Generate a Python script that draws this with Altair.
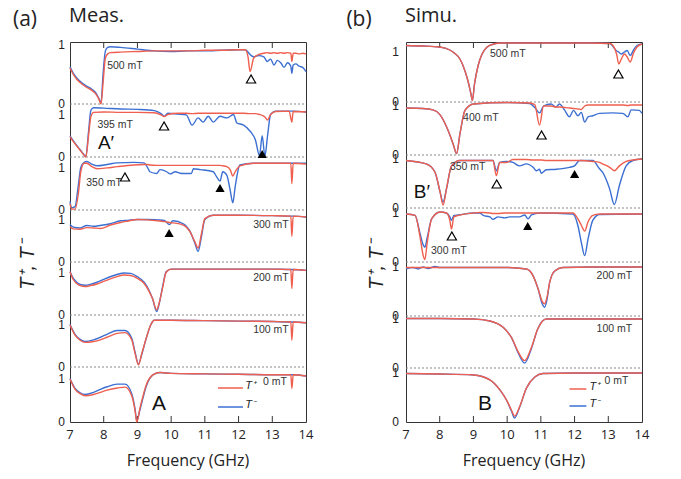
import altair as alt
import pandas as pd

# ---------------- panel (a): measured ----------------
A1_F = [7.0, 7.1, 7.2, 7.35, 7.5, 7.65, 7.75, 7.85, 7.92, 7.98, 8.05, 8.12, 8.2, 8.5, 9.0, 9.5, 10.0, 10.5, 11.0, 11.5, 12.0, 12.2, 12.28, 12.34, 12.45, 12.6, 12.75, 12.85, 12.95, 13.05, 13.15, 13.25, 13.35, 13.45, 13.55, 13.58, 13.62, 13.7, 13.8, 13.9, 14.0]
A1_R = [0.61, 0.5, 0.42, 0.34, 0.28, 0.23, 0.18, 0.09, 0.0, 0.35, 0.78, 0.85, 0.87, 0.88, 0.89, 0.9, 0.9, 0.9, 0.91, 0.91, 0.92, 0.92, 0.8, 0.55, 0.78, 0.84, 0.86, 0.87, 0.86, 0.87, 0.86, 0.87, 0.86, 0.87, 0.86, 0.72, 0.86, 0.86, 0.85, 0.86, 0.85]
A1_B = [0.63, 0.52, 0.44, 0.36, 0.3, 0.25, 0.2, 0.1, 0.02, 0.5, 0.9, 0.96, 0.97, 0.96, 0.93, 0.9, 0.89, 0.9, 0.9, 0.91, 0.92, 0.92, 0.88, 0.84, 0.8, 0.82, 0.8, 0.72, 0.76, 0.66, 0.74, 0.7, 0.62, 0.7, 0.64, 0.52, 0.66, 0.68, 0.64, 0.62, 0.55]

A2_F = [7.0, 7.1, 7.2, 7.3, 7.4, 7.47, 7.55, 7.62, 7.7, 8.0, 8.5, 9.0, 9.5, 9.7, 9.8, 9.9, 10.2, 10.45, 10.62, 10.8, 10.95, 11.1, 11.25, 11.45, 11.65, 11.85, 11.95, 12.15, 12.35, 12.5, 12.62, 12.7, 12.78, 12.86, 12.95, 13.1, 13.5, 13.58, 13.62, 14.0]
A2_R = [0.48, 0.36, 0.26, 0.16, 0.06, 0.0, 0.5, 0.95, 1.05, 1.06, 1.05, 1.05, 1.04, 0.99, 0.95, 1.0, 1.03, 1.03, 1.02, 1.03, 1.03, 1.03, 1.03, 1.03, 1.03, 1.03, 1.03, 1.03, 1.02, 1.02, 1.0, 0.98, 0.94, 0.87, 1.0, 1.07, 1.08, 0.82, 1.07, 1.06]
A2_B = [0.5, 0.38, 0.27, 0.17, 0.07, 0.01, 0.6, 1.1, 1.16, 1.15, 1.13, 1.12, 1.09, 1.02, 0.96, 1.03, 1.01, 0.99, 0.75, 0.92, 0.82, 0.96, 0.82, 0.96, 0.92, 1.0, 0.8, 0.75, 0.6, 0.4, 0.03, 0.5, 0.02, 0.5, 1.0, 1.08, 1.08, 1.08, 1.08, 1.06]

A3_F = [7.0, 7.05, 7.15, 7.25, 7.32, 7.42, 7.5, 7.65, 7.8, 8.1, 8.4, 8.9, 9.2, 9.3, 9.37, 9.57, 9.67, 9.87, 9.97, 10.12, 10.31, 10.6, 10.66, 10.86, 11.25, 11.35, 11.45, 11.53, 11.65, 11.75, 11.83, 11.9, 12.04, 12.44, 13.0, 13.55, 13.58, 13.62, 14.0]
A3_R = [0.15, 0.02, 0.02, 0.4, 0.9, 1.1, 1.1, 1.02, 0.97, 0.99, 1.02, 1.06, 1.07, 1.07, 1.06, 1.05, 1.05, 1.05, 1.05, 1.05, 1.05, 1.05, 1.05, 1.05, 1.05, 1.05, 1.05, 1.04, 1.02, 0.95, 0.8, 0.9, 1.04, 1.1, 1.1, 1.1, 0.62, 1.1, 1.08]
A3_B = [0.2, 0.05, 0.08, 0.6, 1.0, 1.12, 1.14, 1.08, 1.04, 1.07, 1.11, 1.12, 1.11, 1.0, 0.9, 0.86, 0.95, 0.9, 0.85, 0.9, 0.86, 0.86, 0.97, 0.95, 0.9, 0.78, 0.68, 0.9, 0.82, 0.47, 0.17, 0.55, 1.06, 1.1, 1.1, 1.1, 1.1, 1.1, 1.1]

A4_F = [7.0, 7.1, 7.3, 7.5, 7.7, 7.9, 8.2, 8.5, 8.7, 9.0, 9.3, 9.6, 9.8, 9.95, 10.05, 10.36, 10.56, 10.7, 10.8, 10.9, 11.0, 11.25, 12.0, 13.0, 13.55, 13.58, 13.62, 14.0]
A4_R = [0.83, 0.78, 0.77, 0.81, 0.8, 0.79, 0.87, 0.93, 0.96, 1.0, 0.99, 0.97, 0.95, 0.93, 0.92, 0.87, 0.71, 0.48, 0.33, 0.67, 1.02, 1.1, 1.1, 1.09, 1.08, 0.6, 1.08, 1.06]
A4_B = [0.88, 0.82, 0.8, 0.86, 0.84, 0.86, 0.9, 0.97, 0.98, 1.0, 1.0, 0.99, 0.98, 0.88, 0.97, 0.9, 0.72, 0.45, 0.25, 0.6, 1.0, 1.1, 1.1, 1.09, 1.08, 1.08, 1.08, 1.06]

A5_F = [7.0, 7.1, 7.2, 7.3, 7.45, 7.6, 7.8, 8.0, 8.3, 8.6, 8.8, 9.0, 9.2, 9.35, 9.45, 9.57, 9.65, 9.75, 9.85, 10.0, 11.0, 12.0, 13.0, 13.55, 13.58, 13.62, 14.0]
A5_R = [1.02, 0.83, 0.74, 0.69, 0.67, 0.69, 0.73, 0.79, 0.88, 0.94, 0.93, 0.86, 0.74, 0.55, 0.38, 0.12, 0.3, 0.65, 1.0, 1.08, 1.08, 1.08, 1.08, 1.07, 0.62, 1.07, 1.05]
A5_B = [1.02, 0.86, 0.77, 0.72, 0.7, 0.72, 0.77, 0.84, 0.93, 0.99, 0.98, 0.9, 0.77, 0.57, 0.38, 0.08, 0.28, 0.68, 1.02, 1.08, 1.08, 1.08, 1.08, 1.07, 1.07, 1.07, 1.05]

A6_F = [7.0, 7.15, 7.3, 7.45, 7.7, 7.9, 8.1, 8.4, 8.63, 8.83, 8.93, 9.03, 9.13, 9.27, 9.4, 9.5, 10.0, 11.0, 12.0, 13.0, 13.55, 13.58, 13.62, 14.0]
A6_R = [0.99, 0.75, 0.63, 0.58, 0.6, 0.64, 0.7, 0.79, 0.81, 0.64, 0.32, 0.05, 0.32, 0.7, 1.0, 1.1, 1.1, 1.09, 1.08, 1.07, 1.06, 0.63, 1.06, 1.04]
A6_B = [1.0, 0.77, 0.65, 0.6, 0.64, 0.7, 0.77, 0.86, 0.86, 0.68, 0.35, 0.07, 0.3, 0.7, 1.0, 1.1, 1.1, 1.09, 1.08, 1.07, 1.06, 1.06, 1.06, 1.04]

A7_F = [7.0, 7.15, 7.3, 7.45, 7.7, 7.9, 8.1, 8.4, 8.63, 8.83, 8.93, 8.98, 9.08, 9.27, 9.47, 9.67, 10.0, 11.0, 12.0, 13.0, 13.55, 13.58, 13.62, 14.0]
A7_R = [1.0, 0.76, 0.66, 0.61, 0.64, 0.69, 0.74, 0.79, 0.81, 0.61, 0.26, 0.0, 0.34, 0.88, 1.1, 1.15, 1.13, 1.12, 1.11, 1.1, 1.1, 0.78, 1.1, 1.07]
A7_B = [1.01, 0.78, 0.68, 0.64, 0.69, 0.76, 0.82, 0.88, 0.88, 0.66, 0.3, 0.03, 0.3, 0.85, 1.1, 1.15, 1.13, 1.12, 1.11, 1.1, 1.1, 1.1, 1.1, 1.07]

# ---------------- panel (b): simulated ----------------
B1_F = [7.0, 7.5, 8.0, 8.3, 8.45, 8.6, 8.75, 8.85, 8.93, 8.97, 9.03, 9.14, 9.25, 9.39, 9.6, 9.8, 11.0, 12.5, 13.05, 13.15, 13.25, 13.31, 13.38, 13.48, 13.56, 13.65, 13.75, 13.85, 14.0]
B1_R = [1.13, 1.12, 1.1, 1.04, 0.97, 0.86, 0.62, 0.39, 0.15, 0.03, 0.35, 0.73, 0.95, 1.09, 1.16, 1.18, 1.18, 1.18, 1.17, 1.12, 0.95, 0.76, 0.85, 0.96, 0.9, 0.8, 0.98, 1.1, 1.16]
B1_B = [1.13, 1.12, 1.1, 1.04, 0.97, 0.86, 0.62, 0.39, 0.15, 0.03, 0.35, 0.73, 0.95, 1.09, 1.16, 1.18, 1.18, 1.18, 1.17, 1.1, 1.02, 1.0, 0.96, 1.0, 1.03, 0.93, 1.04, 1.13, 1.16]

B2_F = [7.0, 7.5, 7.8, 8.0, 8.25, 8.4, 8.5, 8.6, 8.75, 9.0, 10.0, 10.67, 10.82, 10.96, 11.08, 11.3, 11.45, 11.55, 11.7, 11.85, 11.97, 12.1, 12.2, 12.3, 12.4, 12.54, 12.74, 13.13, 13.43, 13.58, 13.68, 13.92, 14.0]
B2_R = [0.96, 0.95, 0.92, 0.83, 0.5, 0.22, 0.03, 0.43, 0.91, 1.04, 1.07, 1.06, 1.03, 0.61, 1.0, 1.0, 0.98, 0.98, 0.97, 0.96, 0.95, 0.94, 0.93, 1.0, 1.02, 1.02, 1.02, 1.02, 1.02, 1.01, 1.02, 1.02, 1.02]
B2_B = [0.96, 0.95, 0.92, 0.83, 0.5, 0.22, 0.03, 0.43, 0.91, 1.04, 1.07, 1.05, 0.97, 0.86, 1.0, 1.04, 0.98, 1.04, 0.92, 0.78, 0.91, 0.8, 0.87, 0.67, 0.78, 0.8, 0.85, 0.86, 0.85, 0.78, 0.92, 0.91, 0.85]

B3_F = [7.0, 7.6, 7.86, 8.01, 8.1, 8.2, 8.35, 8.6, 9.58, 9.68, 9.78, 9.98, 10.17, 10.37, 10.57, 10.77, 10.87, 10.96, 11.01, 11.16, 11.46, 11.85, 12.0, 12.15, 12.54, 12.74, 12.83, 13.04, 13.18, 13.33, 13.53, 13.73, 14.0]
B3_R = [0.97, 0.9, 0.73, 0.33, 0.06, 0.39, 0.86, 0.97, 0.97, 0.66, 0.93, 0.93, 0.99, 0.99, 0.99, 0.98, 0.98, 0.98, 0.98, 0.97, 0.97, 0.97, 0.97, 0.97, 0.95, 0.93, 0.9, 0.83, 0.76, 0.86, 0.95, 0.98, 1.0]
B3_B = [0.97, 0.9, 0.73, 0.33, 0.12, 0.39, 0.86, 0.97, 0.97, 0.76, 0.93, 0.95, 0.93, 0.86, 0.9, 0.83, 0.76, 0.79, 0.71, 0.78, 0.79, 0.83, 0.86, 0.97, 0.97, 0.8, 0.73, 0.39, 0.07, 0.46, 0.86, 0.97, 1.0]

B4_F = [7.0, 7.27, 7.41, 7.51, 7.56, 7.63, 7.76, 8.01, 8.2, 8.3, 8.35, 8.42, 8.55, 9.0, 9.19, 9.29, 9.49, 9.58, 9.73, 9.93, 10.08, 10.37, 10.52, 10.62, 10.72, 10.96, 11.95, 12.1, 12.2, 12.3, 12.4, 12.54, 12.74, 14.0]
B4_R = [0.98, 0.95, 0.54, 0.13, 0.05, 0.4, 0.88, 1.02, 1.0, 0.85, 0.67, 0.92, 0.95, 1.0, 1.01, 1.01, 1.0, 0.99, 0.99, 1.0, 1.0, 1.0, 1.0, 1.0, 1.0, 1.0, 1.0, 0.88, 0.75, 0.63, 0.82, 0.95, 0.98, 0.98]
B4_B = [0.98, 0.95, 0.6, 0.35, 0.3, 0.5, 0.88, 1.02, 1.0, 0.92, 0.85, 0.95, 0.96, 1.0, 1.0, 0.95, 0.92, 0.87, 0.92, 0.9, 0.92, 0.92, 0.96, 0.88, 0.96, 1.0, 0.98, 0.74, 0.4, 0.13, 0.47, 0.85, 0.97, 0.98]

B5_F = [7.0, 7.2, 7.36, 7.51, 7.66, 7.86, 8.0, 9.0, 10.0, 10.57, 10.77, 10.92, 11.04, 11.11, 11.18, 11.26, 11.41, 11.65, 12.5, 14.0]
B5_R = [0.99, 0.99, 0.99, 0.99, 0.99, 0.99, 0.99, 0.99, 0.99, 0.96, 0.82, 0.55, 0.3, 0.25, 0.38, 0.68, 0.92, 0.99, 1.0, 1.0]
B5_B = [0.96, 0.99, 0.96, 1.0, 0.97, 1.01, 0.99, 0.99, 0.99, 0.96, 0.82, 0.55, 0.25, 0.18, 0.33, 0.68, 0.92, 0.99, 1.0, 1.0]

B6_F = [7.0, 8.0, 9.0, 9.49, 9.88, 10.13, 10.32, 10.52, 10.72, 10.91, 11.16, 12.0, 14.0]
B6_R = [1.01, 1.01, 1.0, 0.96, 0.83, 0.62, 0.34, 0.15, 0.42, 0.8, 1.0, 1.0, 1.0]
B6_B = [1.01, 1.01, 1.0, 0.96, 0.83, 0.62, 0.32, 0.1, 0.4, 0.8, 1.0, 1.0, 1.0]

B7_F = [7.0, 8.0, 9.0, 9.49, 9.79, 9.98, 10.13, 10.22, 10.37, 10.57, 10.82, 11.06, 12.0, 14.0]
B7_R = [0.99, 0.98, 0.96, 0.86, 0.65, 0.45, 0.24, 0.12, 0.31, 0.69, 0.92, 0.99, 1.0, 1.0]
B7_B = [0.99, 0.98, 0.96, 0.86, 0.65, 0.45, 0.22, 0.08, 0.3, 0.69, 0.92, 0.99, 1.0, 1.0]

# field labels, letters, tick values
FREQ_TICKS = [7, 8, 9, 10, 11, 12, 13, 14]
A_FIELDS = ["500 mT", "395 mT", "350 mT", "300 mT", "200 mT", "100 mT", "0 mT"]
B_FIELDS = ["500 mT", "400 mT", "350 mT", "300 mT", "200 mT", "100 mT", "0 mT"]

# ---------------- layout (stacking of the 7 traces) ----------------
H = 380
W = 236
A_BASE = [318, 265, 212, 160, 107, 55, 0]
A_AMP = [59, 42.5, 42.5, 42.5, 42.5, 42.5, 43]
B_BASE = [320, 267, 214, 160, 106, 54, 0]
B_AMP = [50, 49, 49, 49, 49, 49, 49]

RED = "#ef5f4f"
BLUE = "#3b6fd2"
FONT = "Liberation Sans"

A_TRACES = [(A1_F, A1_R, A1_B), (A2_F, A2_R, A2_B), (A3_F, A3_R, A3_B), (A4_F, A4_R, A4_B),
            (A5_F, A5_R, A5_B), (A6_F, A6_R, A6_B), (A7_F, A7_R, A7_B)]
B_TRACES = [(B1_F, B1_R, B1_B), (B2_F, B2_R, B2_B), (B3_F, B3_R, B3_B), (B4_F, B4_R, B4_B),
            (B5_F, B5_R, B5_B), (B6_F, B6_R, B6_B), (B7_F, B7_R, B7_B)]

# annotation placements: (freq, stacked-y)
A_FIELD_POS = [(8.63, 356), (8.34, 297), (8.01, 239), (12.96, 197), (12.96, 144), (12.96, 92), (13.08, 40)]
B_FIELD_POS = [(10.02, 368), (9.22, 304), (8.83, 255), (8.27, 171), (13.18, 146), (13.18, 93), (13.24, 41)]
A_TRI_OPEN = [(12.37, 343), (9.79, 296), (8.63, 245)]
A_TRI_FILL = [(12.7, 268), (11.45, 234), (9.94, 189)]
B_TRI_OPEN = [(13.3, 348), (11.02, 287), (9.69, 238), (8.36, 186)]
B_TRI_FILL = [(12.0, 248), (10.61, 196)]

XS = alt.Scale(domain=[7, 14], nice=False, zero=False)
YS = alt.Scale(domain=[0, H], nice=False, zero=False)


def X(field):
    return alt.X(field, scale=XS, axis=None)


def Y(field):
    return alt.Y(field, scale=YS, axis=None)


def build_panel(traces, base, amp, fields, field_pos, tri_open, tri_fill,
                letters, legend, tag, name, title_dx, ylab_pad, ytitle_dx):
    rows = []
    for k, (F, R, B) in enumerate(traces):
        for f, t in zip(F, B):
            rows.append({"f": f, "y": base[k] + t * amp[k], "band": k, "s": "B"})
        for f, t in zip(F, R):
            rows.append({"f": f, "y": base[k] + t * amp[k], "band": k, "s": "R"})
    df = pd.DataFrame(rows)

    zeros = base
    ones = [b + a for b, a in zip(base, amp)]

    zl = pd.DataFrame({"y": zeros[:-1]})
    zero_lines = alt.Chart(zl).mark_rule(color="#888", strokeDash=[2, 2], strokeWidth=1).encode(
        x=alt.value(0), x2=alt.value(W), y=Y("y:Q"))

    blue = alt.Chart(df[df.s == "B"]).mark_line(color=BLUE, strokeWidth=1.4, interpolate="monotone").encode(
        x=X("f:Q"), y=Y("y:Q"), detail="band:N")
    red = alt.Chart(df[df.s == "R"]).mark_line(color=RED, strokeWidth=1.4, interpolate="monotone").encode(
        x=X("f:Q"), y=Y("y:Q"), detail="band:N")

    # inward frequency ticks (bottom and top edges)
    tk = pd.DataFrame([{"f": f, "y0": 0, "y1": 6} for f in FREQ_TICKS[1:-1]] +
                      [{"f": f, "y0": H - 6, "y1": H} for f in FREQ_TICKS[1:-1]])
    ticks = alt.Chart(tk).mark_rule(color="#333", strokeWidth=1).encode(
        x=X("f:Q"), y=Y("y0:Q"), y2="y1:Q")

    # frequency tick labels
    xl = pd.DataFrame({"f": FREQ_TICKS, "t": [str(v) for v in FREQ_TICKS]})
    xlab = alt.Chart(xl).mark_text(font="Open Sans", fontSize=13, color="#222", baseline="middle").encode(
        x=X("f:Q"), y=alt.value(H + 13), text="t:N")
    xtitle = alt.Chart(pd.DataFrame({"t": ["Frequency (GHz)"]})).mark_text(
        font="Open Sans", fontSize=16, color="#222", baseline="middle").encode(
        x=alt.value(W / 2), y=alt.value(H + 39), text="t:N")

    # stacked 0 / 1 labels on the left
    yl = pd.DataFrame({"y": zeros + ones, "t": ["0"] * len(zeros) + ["1"] * len(ones)})
    ylab = alt.Chart(yl).mark_text(font=FONT, fontSize=12, color="#222", align="right",
                                   baseline="middle").encode(
        x=alt.value(-ylab_pad), y=Y("y:Q"), text="t:N")

    fl = pd.DataFrame({"f": [p[0] for p in field_pos], "y": [p[1] for p in field_pos], "t": fields})
    field_txt = alt.Chart(fl).mark_text(font=FONT, fontSize=10.5, color="#333").encode(
        x=X("f:Q"), y=Y("y:Q"), text="t:N")

    to = pd.DataFrame({"f": [p[0] for p in tri_open], "y": [p[1] for p in tri_open]})
    tf = pd.DataFrame({"f": [p[0] for p in tri_fill], "y": [p[1] for p in tri_fill]})
    tri_o = alt.Chart(to).mark_point(shape="triangle-up", size=85, fill="white", fillOpacity=1,
                                     stroke="black", strokeWidth=1.2, opacity=1).encode(x=X("f:Q"), y=Y("y:Q"))
    tri_f = alt.Chart(tf).mark_point(shape="triangle-up", size=85, filled=True, color="black",
                                     opacity=1).encode(x=X("f:Q"), y=Y("y:Q"))

    lt = pd.DataFrame({"f": [p[0] for p in letters], "y": [p[1] for p in letters],
                       "t": [p[2] for p in letters], "s": [p[3] for p in letters]})
    letter_txt = alt.Chart(lt).mark_text(font=FONT, color="#111").encode(
        x=X("f:Q"), y=Y("y:Q"), text="t:N", size=alt.Size("s:Q", scale=None, legend=None))

    (lx0, lx1, ly_r, ly_b, ltx) = legend
    lg = pd.DataFrame({"f0": [lx0, lx0], "f1": [lx1, lx1], "y": [ly_r, ly_b], "c": ["R", "B"]})
    leg_lines = alt.Chart(lg).mark_rule(strokeWidth=1.5).encode(
        x=X("f0:Q"), x2="f1:Q", y=Y("y:Q"),
        color=alt.Color("c:N", scale=alt.Scale(domain=["R", "B"], range=[RED, BLUE]), legend=None))
    lgt = pd.DataFrame({"f": [ltx, ltx], "y": [ly_r + 2, ly_b + 2], "t": ["T\u207a", "T\u207b"]})
    leg_txt = alt.Chart(lgt).mark_text(font=FONT, fontSize=11, fontStyle="italic", align="left",
                                       color="#222").encode(x=X("f:Q"), y=Y("y:Q"), text="t:N")

    tag_txt = alt.Chart(pd.DataFrame({"t": [tag]})).mark_text(
        font="Open Sans", fontSize=21, color="#222", align="center", baseline="middle").encode(
        x=alt.value(title_dx), y=alt.value(-22), text="t:N")
    name_txt = alt.Chart(pd.DataFrame({"t": [name]})).mark_text(
        font="Open Sans", fontSize=20, color="#222", align="left", baseline="middle").encode(
        x=alt.value(-1), y=alt.value(-26), text="t:N")
    ytitle = alt.Chart(pd.DataFrame({"t": ["T\u207a, T\u207b"]})).mark_text(
        font=FONT, fontSize=20, fontStyle="italic", color="#222", angle=270,
        align="center", baseline="middle").encode(
        x=alt.value(ytitle_dx), y=alt.value(223), text="t:N")

    return alt.layer(blue, zero_lines, ticks, xlab, xtitle, ylab, red, tri_o, tri_f, field_txt,
                     letter_txt, leg_lines, leg_txt, tag_txt, name_txt, ytitle).properties(width=W, height=H)


pa = build_panel(A_TRACES, A_BASE, A_AMP, A_FIELDS, A_FIELD_POS, A_TRI_OPEN, A_TRI_FILL,
                 [(8.07, 279, "A\u2032", 19), (9.64, 18, "A", 21)], (11.39, 12.13, 34, 15, 12.2),
                 "(a)", "Meas.", -45, 5, -42)
pb = build_panel(B_TRACES, B_BASE, B_AMP, B_FIELDS, B_FIELD_POS, B_TRI_OPEN, B_TRI_FILL,
                 [(7.47, 230, "B\u2032", 19), (9.34, 18, "B", 21)], (11.85, 12.35, 33, 16, 12.44),
                 "(b)", "Simu.", -47, 7, -29)

chart = alt.hconcat(pa, pb, spacing=100, bounds="flush").properties(
    autosize=alt.AutoSizeParams(type="none"),
    padding={"left": 70, "top": 42, "right": 611, "bottom": 437},
).configure_view(stroke="#333", strokeWidth=1)

chart.save("out.html", embed_options={"renderer": "svg", "actions": False})
